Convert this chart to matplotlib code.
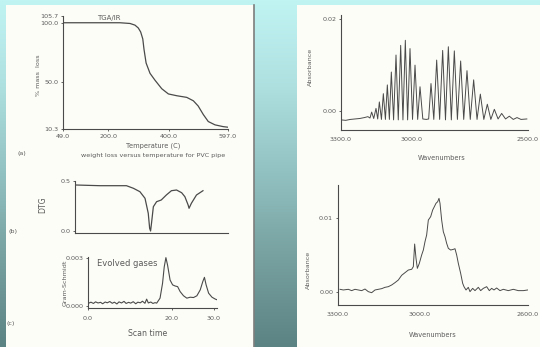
import numpy as np
import matplotlib.pyplot as plt
from matplotlib.colors import LinearSegmentedColormap
from matplotlib.patches import Rectangle

# (a) TGA weight loss
tga_temp = [49, 150, 238, 271.5, 288, 299, 307, 314, 318, 325, 338, 354.5, 377, 399, 426.6,
            460, 482, 498, 515, 531.5, 553.8, 581, 597]
tga_mass = [100.0, 100.0, 100.0, 99.4, 98.0, 95.6, 92.2, 86.3, 77.6, 66.0, 57.3, 51.5, 44.3,
            39.9, 38.4, 37.0, 34.1, 29.7, 22.5, 16.6, 13.8, 12.3, 11.8]

# (b) DTG
dtg_time = [0.2, 5.4, 11.1, 12.6, 14.0, 15.1, 15.8, 16.1, 16.3, 16.5, 16.9, 17.6, 18.6, 19.7,
            20.8, 21.9, 23.0, 23.7, 24.4, 24.6, 25.1, 26.2, 27.6]
dtg_val = [0.46, 0.453, 0.453, 0.427, 0.393, 0.327, 0.177, 0.027, 0.0, 0.077, 0.243, 0.293,
           0.31, 0.36, 0.403, 0.41, 0.383, 0.343, 0.26, 0.227, 0.277, 0.36, 0.403]

# (c) Gram-Schmidt evolved gases
gs_time = [0.2, 0.7, 1.3, 1.8, 2.4, 3.0, 3.5, 4.1, 4.6, 5.2, 5.8, 6.3, 6.9, 7.4, 8.0, 8.6,
           9.1, 9.7, 10.2, 10.8, 11.4, 11.9, 12.5, 13.0, 13.6, 14.0, 14.4, 15.0, 15.5, 16.0,
           16.4, 17.2, 17.8, 18.2, 18.6, 19.0, 19.6, 20.2, 20.8, 21.4, 22.0, 22.8, 23.6,
           24.4, 25.2, 26.0, 26.8, 27.4, 27.8, 28.2, 28.8, 29.6, 30.4, 30.8]
gs_val = [0.00016, 0.00022, 0.00014, 0.00024, 0.00017, 0.00021, 0.00012, 0.00023, 0.00018,
          0.00026, 0.00015, 0.00022, 0.00011, 0.00024, 0.00017, 0.00027, 0.00014, 0.00021,
          0.00016, 0.00025, 0.00012, 0.00022, 0.00018, 0.00028, 0.00015, 0.00041, 0.00017,
          0.00023, 0.00014, 0.00019,
          0.00016, 0.00047, 0.0014, 0.00242, 0.003, 0.00253, 0.0016, 0.0013, 0.00123,
          0.00119, 0.00088, 0.00062, 0.00047, 0.00053, 0.00051, 0.00062, 0.00099, 0.0015,
          0.00177, 0.0013, 0.00078, 0.00053, 0.00041, 0.00037]

# IR spectrum 1 (HCl rotational lines): peaks and troughs
ir1_peak_wn = [3185, 3168.8, 3150.3, 3136.0, 3118.9, 3101.8, 3084.7, 3064.7, 3044.7, 3024.8,
               3004.8, 2983.4, 2962.0, 2915.0, 2890.7, 2865.1, 2840.8, 2815.2, 2788.1,
               2761.0, 2732.5, 2703.9, 2674.0, 2644.0, 2612.7, 2579.9, 2547.1]
ir1_peak_abs = [-0.0012, -0.0002, 0.0006, 0.0020, 0.0038, 0.0057, 0.0085, 0.0122, 0.0143,
                0.0154, 0.0136, 0.0100, 0.0053, 0.0060, 0.0111, 0.0132, 0.0140, 0.0131,
                0.0109, 0.0088, 0.0068, 0.0037, 0.0015, 0.0004, -0.0005, -0.0011, -0.0014]
ir1_base_wn = [3300, 3280, 3260, 3240, 3220, 3200, 3176, 3160, 3143, 3127, 3110, 3093, 3075,
               3055, 3035, 3015, 2994, 2972, 2950, 2935, 2925, 2903, 2878, 2853, 2828, 2802,
               2775, 2747, 2718, 2689, 2659, 2628, 2596, 2563, 2530, 2505]
ir1_base_abs = [-0.0019, -0.0020, -0.0018, -0.0017, -0.0016, -0.0014, -0.0015, -0.0016,
                -0.0017, -0.0018, -0.0018, -0.0018, -0.0019, -0.0019, -0.0019, -0.0019,
                -0.0018, -0.0018, -0.0017, -0.0018, -0.0017, -0.0018, -0.0018, -0.0019,
                -0.0019, -0.0018, -0.0018, -0.0018, -0.0018, -0.0018, -0.0018, -0.0017,
                -0.0017, -0.0018, -0.0018, -0.0017]

# IR spectrum 2
ir2_wn = [3292.6, 3280.4, 3261.9, 3249.7, 3237.4, 3225.1, 3212.8, 3200.5, 3188.3, 3176.0,
          3163.7, 3151.4, 3139.1, 3126.9, 3114.6, 3102.3, 3090.0, 3077.7, 3065.5, 3053.2,
          3040.9, 3028.6, 3022.5, 3017.6, 3012.6, 3007.7, 3000.4, 2991.8, 2985.6, 2979.5,
          2973.4, 2967.2, 2958.6, 2951.2, 2945.1, 2939.0, 2932.8, 2927.9, 2924.2, 2918.1,
          2912.0, 2905.8, 2899.7, 2893.5, 2884.9, 2875.1, 2869.0, 2862.8, 2856.7, 2848.1,
          2840.7, 2835.8, 2828.4, 2819.9, 2813.7, 2803.9, 2795.3, 2783.0, 2774.4, 2764.6,
          2752.3, 2742.5, 2733.9, 2725.3, 2715.5, 2703.2, 2690.9, 2672.5, 2654.1, 2635.7,
          2617.2, 2601.0]
ir2_abs = [0.00032, 0.00023, 0.00032, 0.00014, 0.00032, 0.00023, 0.00014, 0.00036, 0.0,
           -0.00014, 0.00023, 0.00032, 0.00041, 0.00059, 0.00068, 0.00091, 0.00123, 0.00159,
           0.00223, 0.00259, 0.00295, 0.00305, 0.00341, 0.0065, 0.00455, 0.00318, 0.00386,
           0.005, 0.00568, 0.00682, 0.00773, 0.00977, 0.01023, 0.01114, 0.01159, 0.01205,
           0.01227, 0.01273, 0.01205, 0.00977, 0.00818, 0.0075, 0.00659, 0.00591, 0.00568,
           0.00577, 0.00586, 0.005, 0.00386, 0.0025, 0.00114, 0.00068, 0.00023, 0.00059, 0.0,
           0.00045, 0.00014, 0.00059, 0.00014, 0.00045, 0.00068, 0.00014, 0.00045, 0.00023,
           0.0005, 0.00014, 0.00032, 0.00014, 0.00032, 0.00014, 0.00014, 0.00023]

W, H = 540, 347
ink = '#4a4a4a'
txt = '#5a5a5a'
fs = 4.6

fig = plt.figure(figsize=(5.4, 3.47), dpi=100)

# background gradient + paper panels
bg = fig.add_axes([0, 0, 1, 1], zorder=-5)
cmap = LinearSegmentedColormap.from_list('bg', ['#c0f4f3', '#aee0e0', '#92c1c1', '#769f9f', '#5c8384'])
bg.imshow(np.linspace(0, 1, 256).reshape(-1, 1), aspect='auto', cmap=cmap,
          extent=[0, W, H, 0])
bg.add_patch(Rectangle((6, 5), 248, 342, facecolor='#fdfdf8', edgecolor='none'))
bg.plot([254, 254], [5, 347], color='#7d7d7d', lw=1.2)
bg.add_patch(Rectangle((297, 5), 243, 342, facecolor='#fdfdf8', edgecolor='none'))
bg.set_xlim(0, W)
bg.set_ylim(H, 0)
bg.axis('off')


def box(x0, y0, x1, y1):
    return [x0 / W, 1 - y1 / H, (x1 - x0) / W, (y1 - y0) / H]


def style(ax):
    for s in ['top', 'right']:
        ax.spines[s].set_visible(False)
    for s in ['left', 'bottom']:
        ax.spines[s].set_color(ink)
        ax.spines[s].set_linewidth(0.8)
    ax.tick_params(length=1.5, width=0.6, colors=ink, labelcolor=txt, labelsize=fs, pad=2)
    ax.patch.set_alpha(0)


# (a)
ax = fig.add_axes(box(63, 16, 228, 129))
style(ax)
ax.plot(tga_temp, tga_mass, color=ink, lw=0.9)
ax.set_xlim(49, 597)
ax.set_ylim(10.3, 105.7)
ax.set_xticks([49, 200, 400, 597], ['49.0', '200.0', '400.0', '597.0'])
ax.set_yticks([10.3, 50, 100, 105.7], ['10.3', '50.0', '100.0', '105.7'])
fig.text(109 / W, 1 - 18 / H, 'TGA/IR', fontsize=fs + 0.4, color=txt, ha='center', va='center')
fig.text(38 / W, 1 - 75 / H, '% mass  loss', fontsize=fs, color=txt, ha='center', va='center', rotation=90)
fig.text(153 / W, 1 - 146 / H, 'Temperature (C)', fontsize=fs + 0.2, color=txt, ha='center', va='center')
fig.text(153 / W, 1 - 155 / H, 'weight loss versus temperature for PVC pipe', fontsize=fs, color=txt,
         ha='center', va='center')
fig.text(22 / W, 1 - 154 / H, '(a)', fontsize=fs, color=txt, ha='center', va='center')

# (b)
ax = fig.add_axes(box(75, 181, 228, 233))
style(ax)
ax.plot(dtg_time, dtg_val, color=ink, lw=0.9)
ax.set_xlim(0, 33)
ax.set_ylim(-0.02, 0.5)
ax.set_xticks([])
ax.set_yticks([0.0, 0.5], ['0.0', '0.5'])
fig.text(43 / W, 1 - 205 / H, 'DTG', fontsize=fs + 1, color=txt, ha='center', va='center', rotation=90)
fig.text(13 / W, 1 - 232 / H, '(b)', fontsize=fs, color=txt, ha='center', va='center')

# (c)
ax = fig.add_axes(box(88, 257, 217, 308))
style(ax)
ax.plot(gs_time, gs_val, color=ink, lw=0.8)
ax.set_xlim(0, 30.8)
ax.set_ylim(-0.000144, 0.00304)
ax.set_xticks([0, 20, 30], ['0.0', '20.0', '30.0'])
ax.set_yticks([0, 0.003], ['0.000', '0.003'])
ax.tick_params(axis='x', pad=4)
fig.text(65 / W, 1 - 283 / H, 'Gram-Schmidt', fontsize=fs, color=txt, ha='center', va='center',
         rotation=90)
fig.text(127 / W, 1 - 263 / H, 'Evolved gases', fontsize=fs + 1.4, color=txt, ha='center', va='center')
fig.text(11 / W, 1 - 324 / H, '(c)', fontsize=fs, color=txt, ha='center', va='center')
fig.text(148 / W, 1 - 333 / H, 'Scan time', fontsize=fs + 1, color=txt, ha='center', va='center')

# IR top
ir1_wn = np.array(ir1_peak_wn + ir1_base_wn)
ir1_abs = np.array(ir1_peak_abs + ir1_base_abs)
order = np.argsort(-ir1_wn)
ax = fig.add_axes(box(341, 15, 528, 130))
style(ax)
ax.plot(ir1_wn[order], ir1_abs[order], color=ink, lw=0.7)
ax.set_xlim(3300, 2500)
ax.set_ylim(-0.0041, 0.0209)
ax.set_xticks([3300, 3000, 2500], ['3300.0', '3000.0', '2500.0'])
ax.set_yticks([0, 0.02], ['0.00', '0.02'])
ax.tick_params(axis='x', length=0, pad=5)
fig.text(310 / W, 1 - 67 / H, 'Absorbance', fontsize=fs, color=txt, ha='center', va='center', rotation=90)
fig.text(442 / W, 1 - 158 / H, 'Wavenumbers', fontsize=fs + 0.2, color=txt, ha='center', va='center')

# IR bottom
ax = fig.add_axes(box(338, 185, 528, 305))
style(ax)
ax.plot(ir2_wn, ir2_abs, color=ink, lw=0.7)
ax.set_xlim(3300, 2600)
ax.set_ylim(-0.00182, 0.01455)
ax.set_xticks([3300, 3000, 2600], ['3300.0', '3000.0', '2600.0'])
ax.set_yticks([0, 0.01], ['0.00', '0.01'])
ax.tick_params(axis='x', length=0, pad=5)
fig.text(308 / W, 1 - 270 / H, 'Absorbance', fontsize=fs, color=txt, ha='center', va='center', rotation=90)
fig.text(433 / W, 1 - 335 / H, 'Wavenumbers', fontsize=fs + 0.2, color=txt, ha='center', va='center')

fig.savefig('out.png', dpi=100)
